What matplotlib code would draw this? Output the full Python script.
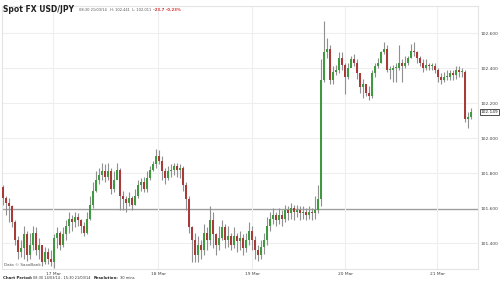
import matplotlib
matplotlib.use('Agg')
import matplotlib.pyplot as plt
import numpy as np

# USD/JPY candles (open = previous close)
first_open = 101.72
close = [101.66, 101.63, 101.61, 101.52, 101.42, 101.35, 101.37, 101.45, 101.33, 101.39,
         101.46, 101.36, 101.39, 101.29, 101.35, 101.31, 101.29, 101.43, 101.46, 101.39,
         101.45, 101.50, 101.54, 101.52, 101.55, 101.53, 101.50, 101.46, 101.54, 101.62,
         101.70, 101.76, 101.79, 101.81, 101.78, 101.81, 101.71, 101.76, 101.82, 101.67,
         101.65, 101.63, 101.66, 101.62, 101.67, 101.73, 101.75, 101.71, 101.77, 101.82,
         101.85, 101.90, 101.87, 101.81, 101.77, 101.81, 101.82, 101.84, 101.82, 101.83,
         101.73, 101.65, 101.49, 101.42, 101.33, 101.39, 101.36, 101.46, 101.42, 101.53,
         101.45, 101.39, 101.43, 101.49, 101.42, 101.44, 101.39, 101.44, 101.41, 101.43,
         101.37, 101.42, 101.47, 101.42, 101.36, 101.33, 101.38, 101.42, 101.50, 101.54,
         101.56, 101.53, 101.56, 101.54, 101.59, 101.57, 101.60, 101.58, 101.59, 101.57,
         101.58, 101.56, 101.58, 101.57, 101.59, 101.65,
         102.33, 102.49, 102.51, 102.33, 102.38, 102.39, 102.46, 102.42, 102.35, 102.40,
         102.45, 102.43, 102.37, 102.29, 102.31, 102.26, 102.24, 102.37, 102.41, 102.43,
         102.49, 102.51, 102.39, 102.39, 102.40, 102.40, 102.43, 102.41, 102.43, 102.46,
         102.50, 102.49, 102.46, 102.43, 102.40, 102.42, 102.41, 102.41, 102.39, 102.35,
         102.33, 102.35, 102.35, 102.37, 102.36, 102.39, 102.38, 102.38, 102.11, 102.12,
         102.15]
high = [101.73, 101.67, 101.66, 101.62, 101.53, 101.44, 101.42, 101.50, 101.47, 101.46,
        101.50, 101.49, 101.43, 101.39, 101.38, 101.37, 101.36, 101.45, 101.49, 101.47,
        101.49, 101.53, 101.58, 101.56, 101.58, 101.57, 101.54, 101.52, 101.58, 101.67,
        101.75, 101.81, 101.83, 101.86, 101.85, 101.86, 101.83, 101.81, 101.86, 101.83,
        101.70, 101.67, 101.69, 101.67, 101.71, 101.76, 101.77, 101.78, 101.81, 101.84,
        101.87, 101.94, 101.93, 101.90, 101.83, 101.84, 101.85, 101.86, 101.86, 101.85,
        101.84, 101.75, 101.67, 101.50, 101.46, 101.44, 101.42, 101.51, 101.49, 101.61,
        101.58, 101.46, 101.50, 101.53, 101.51, 101.50, 101.46, 101.49, 101.46, 101.47,
        101.45, 101.46, 101.52, 101.50, 101.44, 101.39, 101.42, 101.46, 101.55, 101.58,
        101.60, 101.58, 101.60, 101.59, 101.62, 101.61, 101.63, 101.62, 101.62, 101.61,
        101.61, 101.60, 101.61, 101.60, 101.67, 101.73,
        102.45, 102.67, 102.57, 102.53, 102.41, 102.42, 102.49, 102.49, 102.43, 102.43,
        102.47, 102.48, 102.45, 102.37, 102.34, 102.31, 102.30, 102.39, 102.43, 102.46,
        102.50, 102.55, 102.53, 102.41, 102.42, 102.43, 102.53, 102.45, 102.47, 102.47,
        102.54, 102.55, 102.50, 102.47, 102.45, 102.45, 102.43, 102.43, 102.43, 102.40,
        102.37, 102.38, 102.39, 102.39, 102.39, 102.41, 102.41, 102.40, 102.39, 102.15,
        102.17]
low = [101.62, 101.56, 101.52, 101.49, 101.39, 101.31, 101.32, 101.31, 101.30, 101.31,
       101.36, 101.33, 101.31, 101.27, 101.28, 101.28, 101.27, 101.26, 101.37, 101.36,
       101.38, 101.42, 101.46, 101.47, 101.49, 101.50, 101.46, 101.44, 101.45, 101.53,
       101.60, 101.69, 101.74, 101.76, 101.75, 101.76, 101.68, 101.69, 101.77, 101.59,
       101.59, 101.58, 101.61, 101.59, 101.62, 101.66, 101.70, 101.69, 101.69, 101.76,
       101.81, 101.83, 101.85, 101.76, 101.74, 101.76, 101.78, 101.79, 101.78, 101.77,
       101.70, 101.59, 101.46, 101.29, 101.29, 101.29, 101.31, 101.33, 101.36, 101.39,
       101.37, 101.33, 101.36, 101.42, 101.37, 101.38, 101.36, 101.37, 101.35, 101.36,
       101.33, 101.35, 101.39, 101.36, 101.31, 101.30, 101.31, 101.34, 101.39, 101.47,
       101.51, 101.50, 101.51, 101.50, 101.52, 101.53, 101.54, 101.53, 101.55, 101.53,
       101.54, 101.53, 101.54, 101.53, 101.54, 101.57,
       101.61, 102.32, 102.46, 102.31, 102.31, 102.36, 102.37, 102.39, 102.25, 102.34,
       102.41, 102.41, 102.34, 102.26, 102.23, 102.24, 102.22, 102.23, 102.35, 102.40,
       102.43, 102.48, 102.38, 102.34, 102.32, 102.32, 102.39, 102.32, 102.40, 102.42,
       102.46, 102.47, 102.43, 102.41, 102.38, 102.39, 102.39, 102.39, 102.37, 102.32,
       102.31, 102.32, 102.33, 102.33, 102.33, 102.34, 102.35, 102.35, 102.09, 102.06,
       102.11]

day_labels = ['17 Mar', '18 Mar', '19 Mar', '20 Mar', '21 Mar']
day_bars = [16.7, 51.7, 83, 114, 144.7]
price_ticks = [101.40, 101.60, 101.80, 102.00, 102.20, 102.40, 102.60]
prev_close = 101.595
last_price = 102.149

close = np.array(close)
high = np.array(high)
low = np.array(low)
opn = np.concatenate([[first_open], close[:-1]])
x = np.arange(len(close))

fig = plt.figure(figsize=(5, 2.84), dpi=100)
ax = fig.add_axes([0.004, 0.0528, 0.952, 0.926])

green = '#3f9a3f'
red = '#a83a3a'
up = close >= opn
ax.vlines(x, low, high, color='#909090', lw=0.8, zorder=2)
body = np.maximum(np.abs(close - opn), 0.006)
ax.bar(x[up], body[up], bottom=opn[up], width=0.6, color=green, zorder=3, linewidth=0)
ax.bar(x[~up], body[~up], bottom=close[~up], width=0.6, color=red, zorder=3, linewidth=0)

ax.axhline(prev_close, color='#9a9a9a', lw=1.0, zorder=1)

ax.set_xlim(-0.33, 158.33)
ax.set_ylim(101.252, 102.755)
ax.set_yticks(price_ticks)
ax.set_xticks(day_bars)
ax.set_xticklabels(day_labels)
ax.grid(True, color='#eeeeee', lw=0.8, zorder=0)
ax.yaxis.tick_right()
ax.set_yticklabels(['%.3f' % p for p in price_ticks])
ax.tick_params(axis='both', length=0, labelsize=3.2, colors='#444444', pad=2)
for s in ax.spines.values():
    s.set_color('#e4e4e4')
    s.set_linewidth(0.8)

# last price box
ax.annotate('%.3f' % last_price, xy=(1.0, last_price), xycoords=('axes fraction', 'data'),
            xytext=(2, 0), textcoords='offset points', fontsize=3.1, va='center', ha='left',
            color='#222222', bbox=dict(boxstyle='square,pad=0.2', fc='white', ec='#333333', lw=0.6))

ax.text(0.005, 0.01, 'Data \u00a9 SaxoBank', transform=ax.transAxes, fontsize=3, color='#555555')


def text_row(y, x0, parts):
    # lay out text pieces one after another
    fig.canvas.draw()
    r = fig.canvas.get_renderer()
    xpos = x0
    for s, kw, gap in parts:
        t = fig.text(xpos, y, s, va='center', **kw)
        bb = t.get_window_extent(renderer=r)
        xpos = bb.x1 / fig.bbox.width + gap


text_row(0.965, 0.006, [
    ('Spot FX USD/JPY', dict(fontsize=5.5, fontweight='bold', color='#222222'), 0.01),
    ('08:30 21/03/14', dict(fontsize=2.6, color='#555555'), 0.006),
    ('H: 102.441', dict(fontsize=2.6, color='#555555'), 0.004),
    ('L: 102.011', dict(fontsize=2.6, color='#555555'), 0.004),
    ('-23.7 -0.23%', dict(fontsize=2.8, color='#d03030', fontweight='bold'), 0.0),
])
text_row(0.022, 0.006, [
    ('Chart Period:', dict(fontsize=2.8, fontweight='bold', color='#222222'), 0.002),
    ('08:30 14/03/14 - 15:30 21/03/14', dict(fontsize=2.5, color='#333333'), 0.006),
    ('Resolution:', dict(fontsize=2.8, fontweight='bold', color='#222222'), 0.002),
    ('30 mins', dict(fontsize=2.6, color='#333333'), 0.0),
])

fig.savefig('out.png', dpi=100)
